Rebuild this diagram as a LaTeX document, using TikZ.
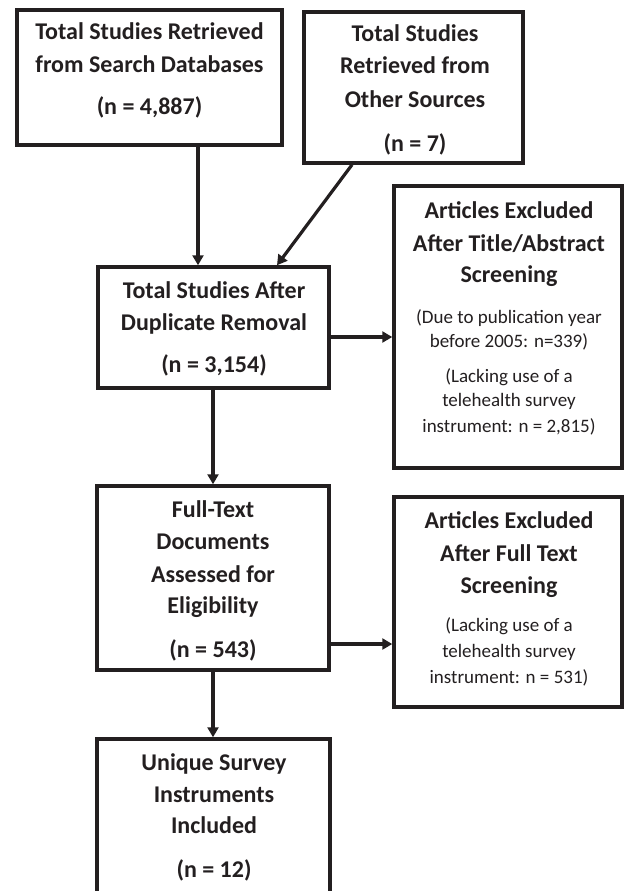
\documentclass[tikz,border=0pt]{standalone}
\usepackage{fontspec}
\setmainfont{Carlito}
\usetikzlibrary{arrows.meta}
\definecolor{ink}{HTML}{231F20}
\begin{document}
\begin{tikzpicture}[x=1pt,y=-1pt,
  box/.style={draw=ink, line width=3.5pt, inner sep=0pt, fill=none},
  bt/.style={font=\fontsize{24}{28}\selectfont\bfseries, text=ink, inner sep=0pt, anchor=base},
  rt/.style={font=\fontsize{19}{23}\selectfont, text=ink, inner sep=0pt, anchor=base},
  arr/.style={draw=ink, line width=3.2pt, -{Triangle[length=10pt,width=11pt]}}]
\useasboundingbox (0,0) rectangle (625,891);
\clip (0,0) rectangle (625,891);
\fill[white] (0,0) rectangle (625,891);
% boxes
\node[box, minimum width=265pt, minimum height=135pt] (b1) at (149.5,77.5) {};
\node[box, minimum width=219pt, minimum height=151pt] (b2) at (413.5,87.5) {};
\node[box, minimum width=231pt, minimum height=121pt] (b3) at (213.5,327.5) {};
\node[box, minimum width=228pt, minimum height=282pt] (b4) at (508,327) {};
\node[box, minimum width=232pt, minimum height=184pt] (b5) at (213,578) {};
\node[box, minimum width=228pt, minimum height=210pt] (b6) at (508,602) {};
\node[box, minimum width=233pt, minimum height=165pt] (b7) at (213.5,821.5) {};
% box 1 text
\node[bt] (t1a) at (149.5,40) {Total Studies Retrieved};
\node[bt] (t1b) at (149.5,73) {from Search Databases};
\node[bt] (t1c) at (149.5,114) {(n = 4,887)};
% box 2 text
\node[bt] (t2a) at (415,42) {Total Studies};
\node[bt] (t2b) at (415,74) {Retrieved from};
\node[bt] (t2c) at (415,107) {Other Sources};
\node[bt] (t2d) at (415,151) {(n = 7)};
% box 3 text
\node[bt] (t3a) at (214,298) {Total Studies After};
\node[bt] (t3b) at (214,330) {Duplicate Removal};
\node[bt] (t3c) at (214,372) {(n = 3,154)};
% box 4 text
\node[bt] (t4a) at (509,218) {Articles Excluded};
\node[bt] (t4b) at (509,251) {After Title/Abstract};
\node[bt] (t4c) at (509,282) {Screening};
\node[rt] (t4d) at (509,323) {(Due to publication year};
\node[rt] (t4e) at (509,347) {before 2005: n=339)};
\node[rt] (t4f) at (509,382) {(Lacking use of a};
\node[rt] (t4g) at (509,406) {telehealth survey};
\node[rt] (t4h) at (509,432) {instrument: n = 2,815)};
% box 5 text
\node[bt] (t5a) at (213,517) {Full-Text};
\node[bt] (t5b) at (213,549) {Documents};
\node[bt] (t5c) at (213,582) {Assessed for};
\node[bt] (t5d) at (213,613) {Eligibility};
\node[bt] (t5e) at (213,657) {(n = 543)};
% box 6 text
\node[bt] (t6a) at (509,528) {Articles Excluded};
\node[bt] (t6b) at (509,561) {After Full Text};
\node[bt] (t6c) at (509,593) {Screening};
\node[rt] (t6d) at (509,631) {(Lacking use of a};
\node[rt] (t6e) at (509,657) {telehealth survey};
\node[rt] (t6f) at (509,683) {instrument: n = 531)};
% box 7 text
\node[bt] (t7a) at (214,770) {Unique Survey};
\node[bt] (t7b) at (214,802) {Instruments};
\node[bt] (t7c) at (214,833) {Included};
\node[bt] (t7d) at (214,877) {(n = 12)};
% connectors
\draw[arr] (b1.south -| 198,0) -- (b3.north -| 198,0);
\draw[arr] (b2.south -| 352,0) -- (b3.north -| 277,0);
\draw[arr] (b3.east |- 0,337) -- (b4.west |- 0,337);
\draw[arr] (b3.south -| 213,0) -- (b5.north -| 213,0);
\draw[arr] (b5.east |- 0,644) -- (b6.west |- 0,644);
\draw[arr] (b5.south -| 213,0) -- (b7.north -| 213,0);
\end{tikzpicture}
\end{document}
